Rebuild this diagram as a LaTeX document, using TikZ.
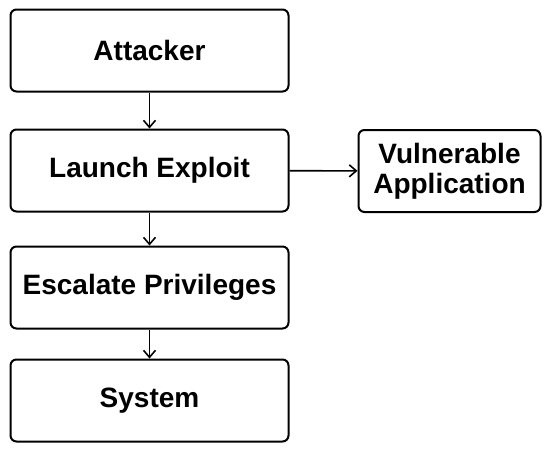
\documentclass[tikz,border=0pt]{standalone}
\usepackage{fontspec}
\setmainfont{Liberation Sans}
\usepackage{tikz}
\usetikzlibrary{positioning, arrows.meta}

\tikzset{
  stagebox/.style={draw, line width=1pt, rounded corners=3pt, minimum width=139pt, minimum height=41pt,
    font=\fontsize{14}{15}\selectfont\bfseries, align=center, inner sep=0pt},
  flow/.style={-{Straight Barb[length=3.5pt, width=6pt]}, line width=0.8pt}
}

\begin{document}
\begin{tikzpicture}[x=0.5pt, y=-0.5pt]
\useasboundingbox (0,0) rectangle (550,452);
% Attack chain
\node[stagebox] (attacker) at (149.5, 50.5) {Attacker};
\node[stagebox] (exploit) at (149.5, 170.5) {Launch Exploit};
\node[stagebox] (escalate) at (149.5, 287.5) {Escalate Privileges};
\node[stagebox] (system) at (149.5, 400.5) {System};

% Target
\node[stagebox, minimum width=91pt] (vulnapp) at (449.5, 171) {Vulnerable\\Application};

\draw[flow] (attacker) -- (exploit);
\draw[flow] (exploit) -- (escalate);
\draw[flow] (escalate) -- (system);
\draw[flow] (exploit) -- (vulnapp);
\end{tikzpicture}
\end{document}
